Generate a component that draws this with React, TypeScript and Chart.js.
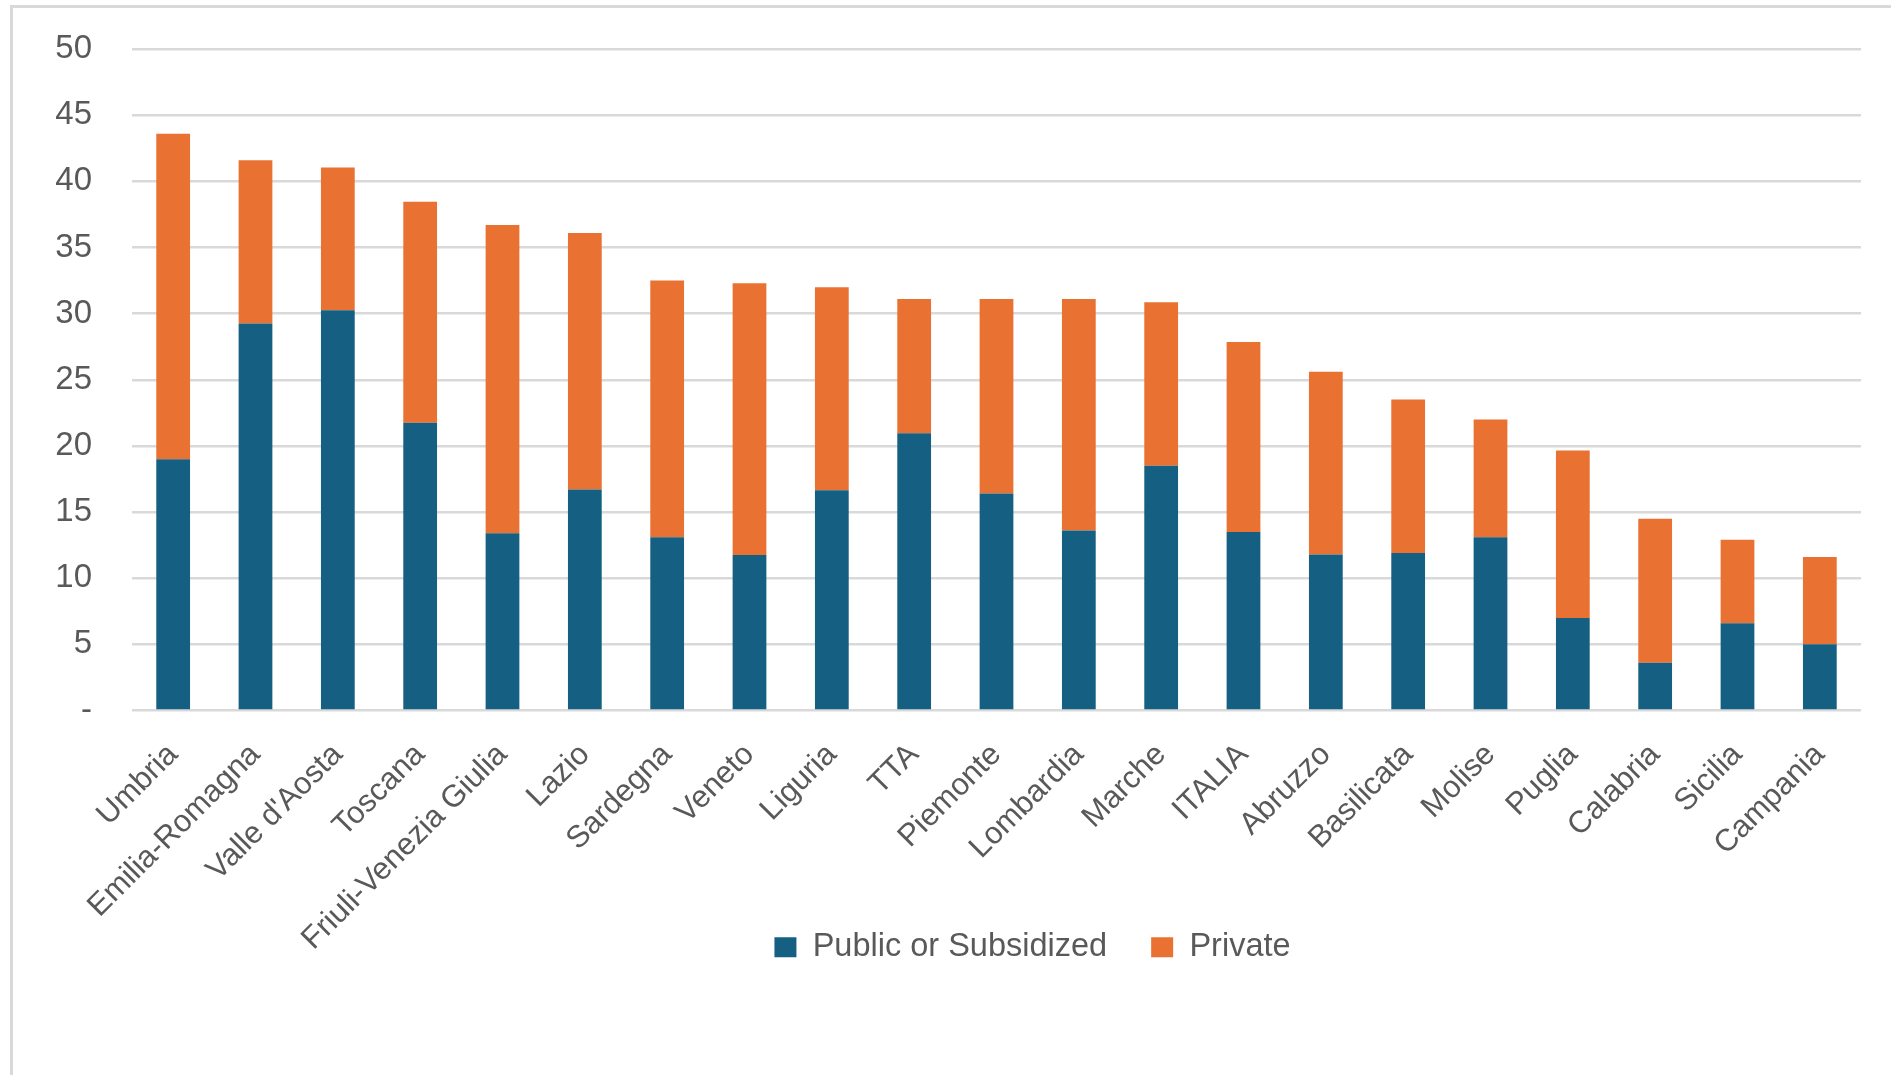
import { useEffect, useRef } from 'react';
import { Chart, registerables } from 'chart.js';

Chart.register(...registerables);

const regions = [
  'Umbria',
  'Emilia-Romagna',
  "Valle d'Aosta",
  'Toscana',
  'Friuli-Venezia Giulia',
  'Lazio',
  'Sardegna',
  'Veneto',
  'Liguria',
  'TTA',
  'Piemonte',
  'Lombardia',
  'Marche',
  'ITALIA',
  'Abruzzo',
  'Basilicata',
  'Molise',
  'Puglia',
  'Calabria',
  'Sicilia',
  'Campania',
];

const publicValues = [
  19.0, 29.25, 30.25, 21.75, 13.4, 16.7, 13.1, 11.75, 16.65, 20.95, 16.4, 13.6, 18.5, 13.5, 11.8, 11.9, 13.1, 7.0,
  3.6, 6.6, 5.0,
];

const privateValues = [
  24.6, 12.35, 10.8, 16.7, 23.3, 19.4, 19.4, 20.55, 15.35, 10.15, 14.7, 17.5, 12.35, 14.35, 13.8, 11.6, 8.9, 12.65,
  10.9, 6.3, 6.6,
];

const seriesNames = ['Public or Subsidized', 'Private'];

const BLUE = '#156082';
const ORANGE = '#E97132';
const TEXT = '#595959';
const GRID = '#d9d9d9';
const FONT = '"Liberation Sans", Arial, sans-serif';

// the legend overlaps the rotated-label band and sits right of centre,
// so move its box after layout
const LEGEND_SHIFT_X = 102;
const LEGEND_TOP = 887;

const placeLegend = {
  id: 'placeLegend',
  afterLayout(chart: any) {
    const l = chart.legend;
    if (l) {
      const h = l.bottom - l.top;
      l.left += LEGEND_SHIFT_X;
      l.right += LEGEND_SHIFT_X;
      l.top = LEGEND_TOP;
      l.bottom = LEGEND_TOP + h;
    }
  },
};

export default function App() {
  const canvas = useRef<HTMLCanvasElement>(null);
  const chartRef = useRef<Chart<'bar'> | null>(null);

  useEffect(() => {
    const current = canvas.current;
    if (!current) return;

    chartRef.current = new Chart(current, {
      type: 'bar',
      data: {
        labels: regions,
        datasets: [
          {
            label: seriesNames[0],
            data: publicValues,
            backgroundColor: BLUE,
            barPercentage: 0.41,
            categoryPercentage: 1,
          },
          {
            label: seriesNames[1],
            data: privateValues,
            backgroundColor: ORANGE,
            barPercentage: 0.41,
            categoryPercentage: 1,
          },
        ],
      },
      options: {
        animation: false,
        responsive: true,
        maintainAspectRatio: false,
        layout: {
          padding: { left: 0, right: 30, top: 49, bottom: 0 },
        },
        plugins: {
          tooltip: { enabled: false },
          legend: {
            position: 'bottom',
            labels: {
              boxWidth: 22,
              boxHeight: 20,
              padding: 44,
              color: TEXT,
              font: { family: FONT, size: 32.5 },
            },
          },
        },
        scales: {
          x: {
            stacked: true,
            grid: { display: false },
            border: { display: false },
            ticks: {
              color: TEXT,
              font: { family: FONT, size: 31 },
              maxRotation: 45,
              minRotation: 45,
              padding: 18,
              autoSkip: false,
            },
            afterFit: (scale: any) => {
              scale.height = 278;
              scale.paddingTop = 0;
              scale.paddingBottom = 0;
            },
          },
          y: {
            stacked: true,
            min: 0,
            max: 50,
            grid: { color: GRID, lineWidth: 2.5, drawTicks: false },
            border: { display: false },
            ticks: {
              stepSize: 5,
              color: TEXT,
              padding: 40,
              font: { family: FONT, size: 33 },
              callback: (v: any) => (v === 0 ? '-' : v),
            },
            afterFit: (scale: any) => {
              scale.width = 132;
              scale.paddingTop = 0;
              scale.paddingBottom = 0;
            },
          },
        },
      },
      plugins: [placeLegend],
    });

    return () => {
      chartRef.current?.destroy();
    };
  }, []);

  return (
    <div style={{ position: 'fixed', left: 0, top: 0, width: 1891, height: 1075, background: '#fff' }}>
      <canvas ref={canvas}></canvas>
      <div
        style={{
          position: 'absolute',
          left: 10,
          top: 5,
          width: 1920,
          height: 1100,
          border: '3px solid ' + GRID,
          pointerEvents: 'none',
        }}
      ></div>
    </div>
  );
}
